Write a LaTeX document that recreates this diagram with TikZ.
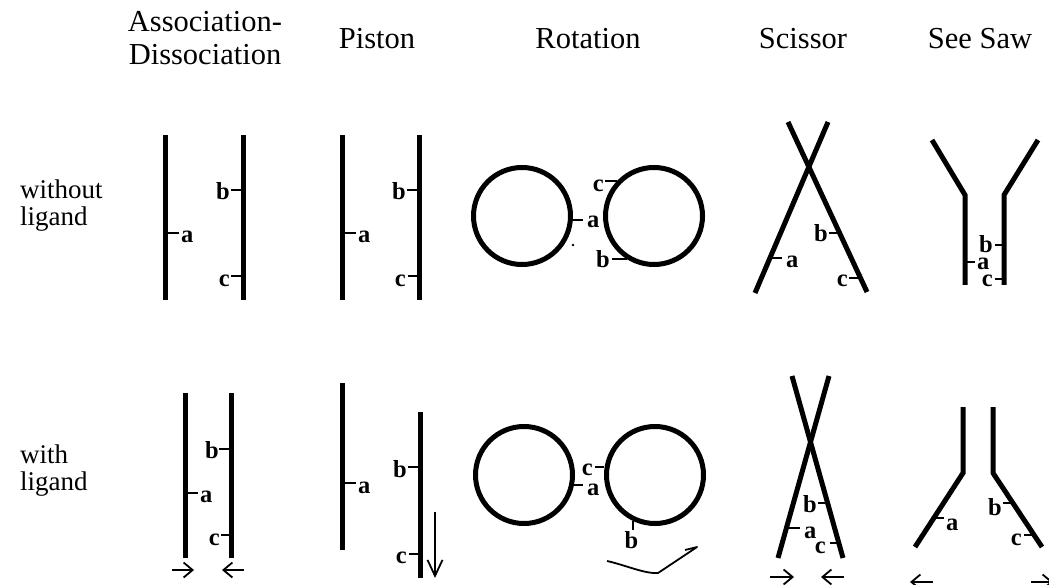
\documentclass[tikz,border=0pt]{standalone}
\usepackage{fontspec}
\setmainfont{Liberation Serif}
\usetikzlibrary{arrows.meta}
\newlength{\barw}
\setlength{\barw}{5pt}
\newlength{\tickw}
\setlength{\tickw}{2.4pt}
\tikzset{bar/.style={line width=\barw}}
\tikzset{tick/.style={line width=\tickw}}
\tikzset{lbl/.style={font=\bfseries\fontsize{24.5}{24.5}\selectfont, inner sep=0pt}}
\tikzset{head/.style={font=\fontsize{30.5}{33}\selectfont, align=center, inner sep=0pt}}
\tikzset{side/.style={font=\fontsize{27}{27}\selectfont, align=left, inner sep=0pt}}
\tikzset{movearrow/.style={line width=1.8pt, -{Straight Barb[length=9pt, width=15pt]}}}
\begin{document}
\begin{tikzpicture}[x=1pt, y=-1pt]
	\useasboundingbox (0,0) rectangle (1049,585);
	
	%%% HEADINGS %%%
	\node[head, anchor=north] at (205,11) (assoc) {Association-\\Dissociation};
	\node[head, anchor=base] at (377,49) (piston) {Piston};
	\node[head, anchor=base] at (588,49) (rotation) {Rotation};
	\node[head, anchor=base] at (803,49) (scissor) {Scissor};
	\node[head, anchor=base] at (980,49) (seesaw) {See Saw};
	
	% ROW LABELS
	\node[side, anchor=north west] at (20,180) (without) {without\\ligand};
	\node[side, anchor=north west] at (20,445) (with) {with\\ligand};
	
	%%% WITHOUT LIGAND %%%
	
	% ASSOCIATION-DISSOCIATION
	\draw[bar] (165,135) -- (165,300);
	\draw[bar] (243,135) -- (243,300);
	\draw[tick] (167,233) -- (179,233);
	\draw[tick] (231,190) -- (241,190);
	\draw[tick] (231,276) -- (241,276);
	\node[lbl, anchor=base west] at (181,243) (ad1a) {a};
	\node[lbl, anchor=base east] at (230,200) (ad1b) {b};
	\node[lbl, anchor=base east] at (230,287) (ad1c) {c};
	
	% PISTON
	\draw[bar] (342,135) -- (342,300);
	\draw[bar] (419,135) -- (419,300);
	\draw[tick] (344,233) -- (356,233);
	\draw[tick] (407,190) -- (417,190);
	\draw[tick] (408,276) -- (417,276);
	\node[lbl, anchor=base west] at (358,243) (pi1a) {a};
	\node[lbl, anchor=base east] at (406,200) (pi1b) {b};
	\node[lbl, anchor=base east] at (406,287) (pi1c) {c};
	
	% ROTATION
	\draw[bar] (522,216) circle[radius=48.5pt];
	\draw[bar] (654,216) circle[radius=48.5pt];
	\draw[tick] (572,220) -- (583,220);
	\draw[tick] (617,181) -- (605,181);
	\draw[tick] (627,259) -- (612,259);
	\fill (573,245) circle[radius=1.3pt];
	\node[lbl, anchor=base west] at (587,228) (ro1a) {a};
	\node[lbl, anchor=base east] at (604,192) (ro1c) {c};
	\node[lbl, anchor=base east] at (610,268) (ro1b) {b};
	
	% SCISSOR
	\draw[bar] (788,122) -- (867,292);
	\draw[bar] (828,122) -- (755,293);
	\draw[tick] (772,258) -- (782,258);
	\draw[tick] (838,233) -- (829,233);
	\draw[tick] (859,278) -- (849,278);
	\node[lbl, anchor=base west] at (786,268) (sc1a) {a};
	\node[lbl, anchor=base east] at (828,242) (sc1b) {b};
	\node[lbl, anchor=base east] at (848,287) (sc1c) {c};
	
	% SEE SAW
	\draw[bar] (932,140) -- (965,195) -- (965,285);
	\draw[bar] (1038,140) -- (1004,195) -- (1004,285);
	\draw[tick] (1002,245) -- (995,245);
	\draw[tick] (967,262) -- (975,262);
	\draw[tick] (1002,279) -- (995,279);
	\node[lbl, anchor=base east] at (993,253) (ss1b) {b};
	\node[lbl, anchor=base west] at (977,270) (ss1a) {a};
	\node[lbl, anchor=base east] at (993,287) (ss1c) {c};
	
	%%% WITH LIGAND %%%
	
	% ASSOCIATION-DISSOCIATION
	\draw[bar] (185,393) -- (185,558);
	\draw[bar] (231,393) -- (231,558);
	\draw[tick] (187,493) -- (198,493);
	\draw[tick] (219,449) -- (229,449);
	\draw[tick] (221,535) -- (229,535);
	\node[lbl, anchor=base west] at (200,502) (ad2a) {a};
	\node[lbl, anchor=base east] at (219,458) (ad2b) {b};
	\node[lbl, anchor=base east] at (220,545) (ad2c) {c};
	\draw[movearrow] (172,570) -- (194,570);
	\draw[movearrow] (244,570) -- (222,570);
	
	% PISTON
	\draw[bar] (342,383) -- (342,550);
	\draw[bar] (420,412) -- (420,578);
	\draw[tick] (344,483) -- (356,483);
	\draw[tick] (408,467) -- (418,467);
	\draw[tick] (409,554) -- (418,554);
	\node[lbl, anchor=base west] at (358,493) (pi2a) {a};
	\node[lbl, anchor=base east] at (407,477) (pi2b) {b};
	\node[lbl, anchor=base east] at (407,563) (pi2c) {c};
	\draw[line width=1.8pt, -{Straight Barb[length=16pt, width=15pt]}] (435,512) -- (435,578);
	
	% ROTATION
	\draw[bar] (524,475) circle[radius=48.5pt];
	\draw[bar] (655,475) circle[radius=48.5pt];
	\draw[tick] (573,485) -- (583,485);
	\draw[tick] (604,467) -- (595,467);
	\draw[tick] (633,521) -- (633,530);
	\node[lbl, anchor=base west] at (587,495) (ro2a) {a};
	\node[lbl, anchor=base east] at (593,475) (ro2c) {c};
	\node[lbl, anchor=base] at (631.5,548) (ro2b) {b};
	\draw[line width=1.8pt, line join=round] (607,561) .. controls (625,565) and (645,574) .. (658,573) -- (697,547) -- (685,550);
	
	% SCISSOR
	\draw[bar] (792,376) -- (843,558);
	\draw[bar] (829,376) -- (778,558);
	\draw[tick] (826,503) -- (818,503);
	\draw[tick] (788,528) -- (800,528);
	\draw[tick] (838,543) -- (830,543);
	\node[lbl, anchor=base east] at (817,512) (sc2b) {b};
	\node[lbl, anchor=base west] at (804,538) (sc2a) {a};
	\node[lbl, anchor=base east] at (826,553) (sc2c) {c};
	\draw[movearrow] (770,577) -- (794,577);
	\draw[movearrow] (844,577) -- (821,577);
	
	% SEE SAW
	\draw[bar] (963,407) -- (963,473) -- (915,547);
	\draw[bar] (993,407) -- (993,473) -- (1042,547);
	\draw[tick] (935,518) -- (944,518);
	\draw[tick] (1012,503) -- (1003,503);
	\draw[tick] (1033,535) -- (1024,535);
	\node[lbl, anchor=base west] at (946,530) (ss2a) {a};
	\node[lbl, anchor=base east] at (1002,515) (ss2b) {b};
	\node[lbl, anchor=base east] at (1022,545) (ss2c) {c};
	\draw[movearrow] (933,582) -- (910,582);
	\draw[movearrow] (1031,582) -- (1053,582);
	
\end{tikzpicture}
\end{document}
